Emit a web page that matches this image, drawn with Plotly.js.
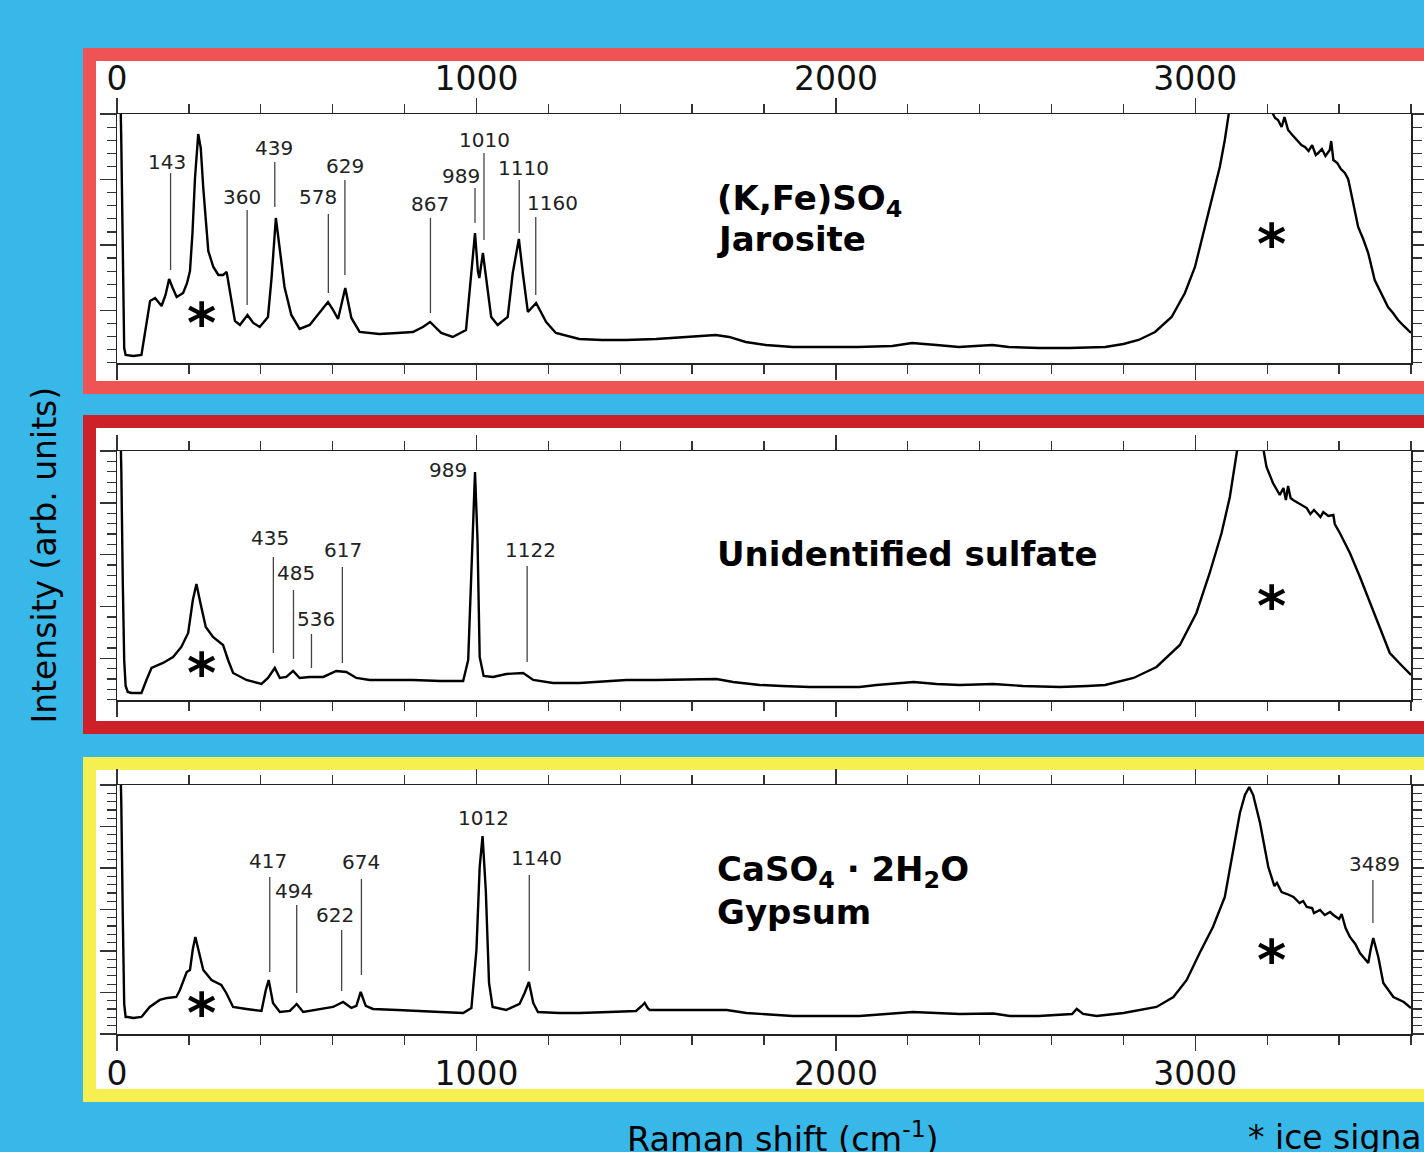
<!DOCTYPE html>
<html><head><meta charset="utf-8">
<script src="https://cdn.plot.ly/plotly-3.0.1.min.js"></script>
<style>html,body{margin:0;padding:0;background:#38b8e8;}#chart{width:1424px;height:1152px;}</style>
</head><body><div id="chart"></div>
<script>
// ---------------- DATA ----------------
// Raman shift (cm-1) and intensity (arb. units) for each spectrum
const jarositeShift = [3,8,12,16,20,24,45,68,80,92,106,124,135,145,155,166,184,195,203,210,217,226,233,240,254,268,282,295,305,319,328,342,363,379,397,420,430,442,451,466,485,508,536,564,587,601,615,635,652,675,730,780,823,851,871,902,934,971,985,996,1004,1008,1018,1027,1041,1059,1087,1101,1118,1129,1143,1166,1194,1221,1286,1350,1416,1500,1601,1666,1703,1749,1805,1880,1972,2060,2157,2212,2280,2342,2435,2481,2564,2650,2749,2800,2842,2888,2934,2971,2999,3027,3045,3068,3082,3096,3110,3150,3190,3212,3222,3230,3240,3248,3258,3270,3285,3295,3305,3315,3325,3335,3342,3352,3362,3374,3378,3384,3395,3405,3416,3425,3430,3440,3453,3467,3481,3499,3520,3536,3550,3564,3580,3600];
const jarositeIntensity = [320,300,220,110,15,8,7,8,35,62,65,57,68,84,75,66,70,80,92,130,185,229,215,175,112,96,88,88,91,62,42,38,48,40,36,46,85,145,118,76,48,34,38,50,61,53,44,75,45,31,29,30,31,36,41,30,26,33,90,130,92,85,110,83,46,38,46,90,124,90,51,60,41,30,24,23,23,24,26,28,26,21,18,16,16,16,17,20,18,16,18,16,15,15,16,19,23,31,46,70,96,136,163,196,223,252,290,310,290,252,245,243,236,246,233,228,222,218,216,212,218,208,210,214,207,213,222,203,200,194,190,184,176,160,136,124,110,83,68,56,50,43,37,30];

const unknownShift = [8,12,16,20,24,30,40,68,82,96,128,156,179,198,211,221,232,247,267,295,309,323,360,402,420,439,453,471,490,508,536,574,610,638,666,703,760,824,900,963,977,984,989,996,1003,1009,1020,1046,1083,1130,1158,1213,1287,1417,1500,1603,1668,1714,1788,1850,1927,2066,2113,2216,2280,2345,2438,2520,2623,2700,2749,2828,2892,2957,3003,3040,3073,3096,3114,3125,3180,3198,3216,3226,3235,3245,3252,3258,3265,3272,3290,3310,3320,3330,3338,3348,3356,3370,3384,3388,3402,3415,3430,3458,3495,3520,3541,3570,3600];
const unknownIntensity = [300,230,120,40,14,8,7,7,20,32,37,43,53,67,100,116,97,73,63,55,40,27,20,16,22,32,22,23,29,22,23,23,29,28,22,20,20,20,19,19,40,110,167,228,160,43,24,23,26,27,20,17,17,20,20,21,21,18,15,14,13,13,15,18,16,15,16,14,13,14,15,22,33,55,87,127,167,203,240,270,270,233,217,210,205,212,200,214,202,200,196,192,186,190,187,183,188,184,185,176,167,158,147,123,90,66,47,36,25];

const gypsumShift = [8,12,16,20,24,30,45,68,91,119,140,165,175,194,203,211,218,228,240,263,290,304,323,360,402,414,422,434,453,481,500,518,564,601,629,652,666,678,692,712,780,824,900,963,986,1000,1009,1017,1026,1035,1045,1083,1120,1134,1146,1158,1171,1230,1287,1370,1444,1460,1468,1476,1482,1603,1696,1751,1880,2066,2140,2214,2345,2438,2484,2564,2657,2670,2688,2725,2800,2892,2939,2976,3012,3049,3082,3105,3124,3138,3150,3161,3180,3203,3215,3220,3227,3240,3255,3273,3290,3300,3310,3325,3330,3347,3360,3375,3384,3400,3407,3418,3430,3445,3458,3470,3481,3488,3495,3509,3523,3551,3580,3600];
const gypsumIntensity = [300,230,120,30,17,17,16,17,27,34,36,37,44,62,64,85,97,81,64,54,49,41,27,25,23,44,54,31,22,23,30,22,25,27,32,26,28,42,28,25,24,23,22,21,26,84,167,198,144,51,27,24,30,41,52,31,22,21,21,22,23,28,31,26,24,24,24,21,18,18,20,22,20,20.5,18,18,20,25,20,18,21,27,37,54,81,107,137,181,221,239,247,239,211,167,155,148,151,142,140,137,131,133,127,126,121,124,119,122,119,115,120,106,97,90,81,76,71,85,96,77,51,37,32,26];

// peak labels (cm-1)
const jarositePeaks = [143,360,439,578,629,867,989,1010,1110,1160];
const unknownPeaks  = [989,435,485,536,617,1122];
const gypsumPeaks   = [417,494,622,674,1012,1140,3489];

const xTickLabels = ['0','1000','2000','3000'];

// ---------------- LAYOUT HELPERS ----------------
const W=1424,H=1152,L=117,R=12.5,T=114,B=118;
const PW=W-L-R, PH=H-T-B;
const px=v=>(v-L)/PW, py=v=>(H-B-v)/PH;
const FONT='DejaVu Sans';

// label placement: [textX, textY]; lines: [lineX, lineTop, lineBottom] (null => no line)
const jarositeLabelPos = [[140,201],[348,166],[437,215],[558,166],[634,197],[870,159],[956,187],[1023,223],[1130,195],[1212,160]];
const jarositeLinePos  = [[149,190,93],[362,153,58],[439,201,156],[588,149,70],[634,183,88],[872,145,50],[996,175,140],[1021,210,123],[1119,183,130],[1165,146,68]];
const unknownLabelPos  = [[920,230],[427,162],[498,127],[555,81],[629,150],[1149,150]];
const unknownLinePos   = [null,[435,143,47],[491,110,41],[541,66,32],[627,133,37],[1141,134,38]];
const gypsumLabelPos   = [[419,173],[493,143],[606,119],[679,172],[1021,216],[1167,176],[3498,170]];
const gypsumLinePos    = [[425,157,62],[500,129,41],[625,104,43],[680,155,59],null,[1147,159,63],[3494,154,111]];

function xAx(anchor, showLabels, side, standoff){
  return {anchor, range:[0,3600], side, showticklabels:showLabels,
    tickmode:'array', tickvals:[0,1000,2000,3000], ticktext:xTickLabels,
    ticks:'outside', ticklen:15, tickwidth:1.4, tickcolor:'#333', ticklabelstandoff:standoff,
    showline:true, linecolor:'#222', linewidth:1.5, mirror:'allticks',
    showgrid:false, zeroline:false, fixedrange:true,
    minor:{ticks:'outside', ticklen:9, tickwidth:1.3, tickcolor:'#333', tickmode:'linear', tick0:0, dtick:200, showgrid:false},
    tickfont:{family:FONT, size:33, color:'#111'}};
}
function yAx(domain, anchor, tick0, dtick, mdtick){
  return {domain, anchor, range:[-0.05,249.05], showticklabels:false,
    tickmode:'linear', tick0, dtick, ticks:'outside', ticklen:16, tickwidth:1.3, tickcolor:'#333',
    showline:true, linecolor:'#222', linewidth:1.5, mirror:'allticks',
    showgrid:false, zeroline:false, fixedrange:true,
    minor:{ticks:'outside', ticklen:9, tickwidth:1.2, tickcolor:'#333', tickmode:'linear', tick0, dtick:mdtick, showgrid:false}};
}

const traceStyle = {mode:'lines', line:{color:'#000', width:2.4}, hoverinfo:'skip', showlegend:false};
const data = [
  Object.assign({x:jarositeShift, y:jarositeIntensity, xaxis:'x', yaxis:'y'}, traceStyle),
  Object.assign({x:unknownShift, y:unknownIntensity, xaxis:'x2', yaxis:'y2'}, traceStyle),
  Object.assign({x:gypsumShift, y:gypsumIntensity, xaxis:'x3', yaxis:'y3'}, traceStyle)
];

const annotations = [];
const shapes = [];
function addLabels(peaks, lpos, lines, xr, yr){
  peaks.forEach((p,i)=>{
    annotations.push({xref:xr, yref:yr, x:lpos[i][0], y:lpos[i][1], text:String(p), showarrow:false,
      xanchor:'center', yanchor:'middle', font:{family:FONT, size:20, color:'#222'}});
    if(lines[i]) shapes.push({type:'line', xref:xr, yref:yr, x0:lines[i][0], x1:lines[i][0], y0:lines[i][1], y1:lines[i][2], line:{color:'#444', width:1.3}});
  });
}
addLabels(jarositePeaks, jarositeLabelPos, jarositeLinePos, 'x', 'y');
addLabels(unknownPeaks, unknownLabelPos, unknownLinePos, 'x2', 'y2');
addLabels(gypsumPeaks, gypsumLabelPos, gypsumLinePos, 'x3', 'y3');

function txt(text, x, y, size, opts){
  annotations.push(Object.assign({xref:'paper', yref:'paper', x:px(x), y:py(y), text, showarrow:false,
    xanchor:'left', yanchor:'middle', font:{family:FONT, size, color:'#000'}}, opts||{}));
}
// mineral names
txt('<b>(K,Fe)SO<sub>4</sub></b>', 715, 200, 34);
txt('<b>Jarosite</b>', 715, 239, 34);
txt('<b>Unidentified sulfate</b>', 715, 554, 34);
txt('<b>CaSO<sub>4</sub> · 2H<sub>2</sub>O</b>', 715, 871, 34);
txt('<b>Gypsum</b>', 715, 912, 34);
// ice asterisks
[[201.7,315],[1272,237],[201.7,665],[1272,598],[201.7,1005],[1272,952]].forEach(a=>
  txt('<b>*</b>', a[0], a[1]+7, 56, {xanchor:'center'}));
// axis titles
txt('Intensity (arb. units)', 43.5, 555, 33, {xanchor:'center', textangle:-90});
txt('Raman shift (cm<sup>-1</sup>)', 783, 1137, 33.5, {xanchor:'center'});
txt('* ice signal', 1246, 1137, 33);

// panel frames
[[54.5,387.5,'#ef5455'],[421.5,727.5,'#cd2029'],[763.5,1095.5,'#f5ef50']].forEach(f=>
  shapes.push({type:'rect', xref:'paper', yref:'paper', x0:px(89.5), x1:px(1460), y0:py(f[0]), y1:py(f[1]),
    fillcolor:'#ffffff', line:{color:f[2], width:13}, layer:'below'}));

const layout = {
  width:W, height:H, margin:{l:L, r:R, t:T, b:B, pad:0},
  paper_bgcolor:'#38b8e8', plot_bgcolor:'rgba(0,0,0,0)', showlegend:false,
  font:{family:FONT},
  xaxis: xAx('y', true, 'top', -6),
  xaxis2: xAx('y2', false, 'bottom', 0),
  xaxis3: xAx('y3', true, 'bottom', -5),
  yaxis: yAx([(1034-363)/PH, 1], 'x', 249, 65.5, 13.1),
  yaxis2: yAx([(1034-700)/PH, (1034-451)/PH], 'x2', 249, 51.85, 10.37),
  yaxis3: yAx([0, (1034-785)/PH], 'x3', 249, 41.5, 8.3),
  annotations, shapes
};
Plotly.newPlot('chart', data, layout, {staticPlot:true, displayModeBar:false});
</script></body></html>
